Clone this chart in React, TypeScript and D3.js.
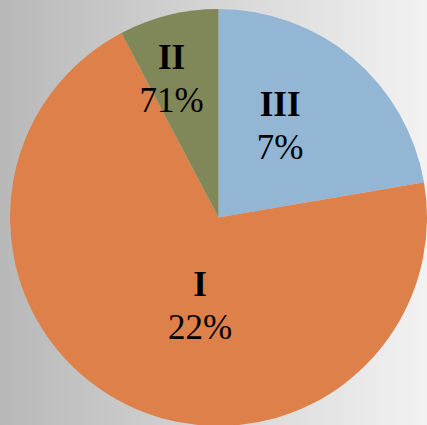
import React from "react";
import * as d3 from "d3";

const categories = ["III", "I", "II"];
const values = [22.3, 70.0, 7.7];
const labelTexts = ["7%", "22%", "71%"];
const colors = ["#93B6D4", "#DD8049", "#80885A"];
const labelOffsets: [number, number][] = [
  [-19, 4],
  [37, -24],
  [-17, -17],
];

const W = 427;
const H = 425;
const CX = 218.5;
const CY = 217.5;
const R = 208.5;

export default function App() {
  const pie = d3
    .pie<number>()
    .sort(null)
    .value((d) => d)
    .startAngle(0)
    .endAngle(2 * Math.PI);
  const arcs = pie(values);
  const arc = d3.arc<d3.PieArcDatum<number>>().innerRadius(0).outerRadius(R);
  const labelArc = d3
    .arc<d3.PieArcDatum<number>>()
    .innerRadius(R * 0.6)
    .outerRadius(R * 0.6);

  return (
    <div style={{ position: "fixed", left: 0, top: 0 }}>
      <svg width={W} height={H} style={{ display: "block" }}>
        <defs>
          <linearGradient id="bg" x1="0" y1="0" x2="1" y2="0">
            <stop offset="0" stopColor="#b8b8b8" />
            <stop offset="1" stopColor="#f2f2f2" />
          </linearGradient>
        </defs>
        <rect x={0} y={0} width={W} height={H} fill="url(#bg)" />
        <g transform={`translate(${CX},${CY})`}>
          {arcs.map((a, i) => (
            <path key={i} d={arc(a) || ""} fill={colors[i]} />
          ))}
          {arcs.map((a, i) => {
            const [x, y] = labelArc.centroid(a);
            const lx = x + labelOffsets[i][0];
            const ly = y + labelOffsets[i][1];
            return (
              <g key={"l" + i} fontFamily="'Liberation Serif', 'Times New Roman', serif" fontSize={35} textAnchor="middle" fill="#000">
                <text x={lx} y={ly - 10} fontWeight="bold">
                  {categories[i]}
                </text>
                <text x={lx} y={ly + 33}>
                  {labelTexts[i]}
                </text>
              </g>
            );
          })}
        </g>
      </svg>
    </div>
  );
}
